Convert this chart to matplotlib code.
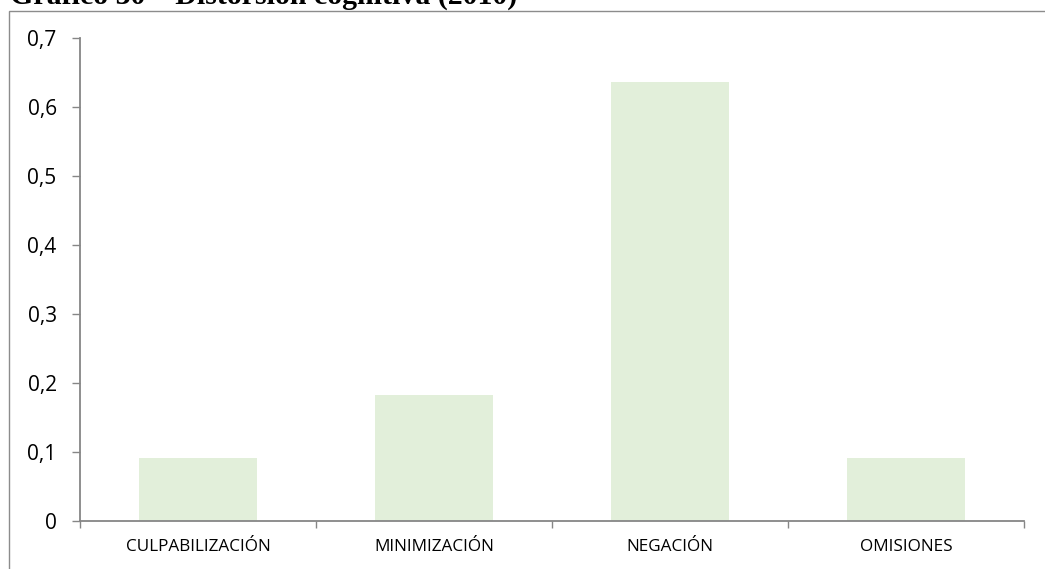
import matplotlib
matplotlib.use("Agg")
import matplotlib.pyplot as plt
from matplotlib.patches import Rectangle
from matplotlib.ticker import FixedLocator, FuncFormatter

categories = ["CULPABILIZACIÓN", "MINIMIZACIÓN", "NEGACIÓN", "OMISIONES"]
values = [0.091, 0.182, 0.636, 0.091]
yticks = [0, 0.1, 0.2, 0.3, 0.4, 0.5, 0.6, 0.7]
title = "Gráfico 30 – Distorsión cognitiva (2010)"

W, H = 1045, 569
fig = plt.figure(figsize=(W / 100, H / 100), dpi=100)
fig.patch.set_facecolor("white")

# outer chart frame (only left and top edges visible in the crop)
fig.patches.append(Rectangle((9 / W, -0.1), 1.2, (H - 11) / H + 0.1,
                             transform=fig.transFigure, fill=False,
                             edgecolor="#8c8c8c", linewidth=1.0))

fig.text(10 / W, 1 - 4 / H, title, fontsize=21.5, fontweight="bold",
         family="Liberation Serif", ha="left", va="baseline")

ax = fig.add_axes([80 / W, (H - 521) / H, (1024 - 80) / W, (521 - 38) / H])
x = list(range(len(categories)))
ax.bar(x, values, width=0.5, color="#E2EFDA", edgecolor="none")
ax.set_xlim(-0.5, len(categories) - 0.5)
ax.set_ylim(0, 0.7)

for s in ["top", "right"]:
    ax.spines[s].set_visible(False)
for s in ["left", "bottom"]:
    ax.spines[s].set_color("#868686")
    ax.spines[s].set_linewidth(1.3)

ax.set_yticks(yticks)
ax.yaxis.set_major_formatter(FuncFormatter(lambda v, p: ("%g" % round(v, 1)).replace(".", ",")))
ax.tick_params(axis="y", direction="out", length=5.8, color="#868686", labelsize=15,
               pad=11, width=1.0)

ax.set_xticks(x)
ax.set_xticklabels(categories)
ax.tick_params(axis="x", which="major", length=0, labelsize=12.3, pad=13)
ax.xaxis.set_minor_locator(FixedLocator([i - 0.5 for i in range(len(categories) + 1)]))
ax.tick_params(axis="x", which="minor", direction="out", length=5, color="#868686", width=1.0)

for lab in ax.get_xticklabels() + ax.get_yticklabels():
    lab.set_family("Open Sans")

fig.savefig("out.png", dpi=100)
